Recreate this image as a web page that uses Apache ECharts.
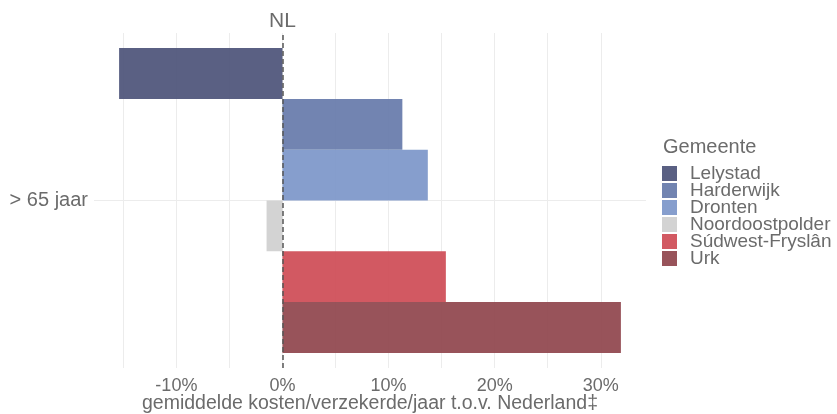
<!DOCTYPE html>
<html>
<head>
<meta charset="utf-8">
<script src="https://cdn.jsdelivr.net/npm/echarts@6/dist/echarts.min.js"></script>
<style>
  html, body { margin: 0; padding: 0; background: #fff; }
  #chart { width: 837px; height: 414px; }
</style>
</head>
<body>
<div id="chart"></div>
<script>
// Age group shown on the vertical axis
const categories = ['> 65 jaar'];
// Municipalities, one bar each
const gemeenten = ['Lelystad', 'Harderwijk', 'Dronten', 'Noordoostpolder', 'Súdwest-Fryslân', 'Urk'];
// Average cost per insured per year relative to the Netherlands (%)
const values = [-15.4, 11.3, 13.7, -1.5, 15.4, 31.9];
// Tick labels and grid positions on the value axis (%)
const xTickLabels = [-10, 0, 10, 20, 30];
const xGridValues = [-15, -10, -5, 0, 5, 10, 15, 20, 25, 30];

const palette = ['#4c5278', '#6679aa', '#7c96c9', '#cfcfcf', '#ce4b55', '#8f444c'];
const textColor = '#6b6b6b';
const fontFamily = '"Liberation Sans", Arial, sans-serif';

// 5% padding around the data range
const lo = Math.min(0, ...values), hi = Math.max(0, ...values);
const pad = (hi - lo) * 0.05;

const chart = echarts.init(document.getElementById('chart'), null, { renderer: 'canvas' });

const series = gemeenten.map((name, i) => ({
  name: name,
  type: 'bar',
  xAxisIndex: 0,
  yAxisIndex: 0,
  barGap: '0%',
  barCategoryGap: '9%',
  itemStyle: { color: palette[i], opacity: 0.92 },
  emphasis: { disabled: true },
  data: [values[i]]
}));

// Dashed reference line at the national average
series[0].markLine = {
  silent: true,
  symbol: ['none', 'none'],
  lineStyle: { type: [5, 3], color: '#555', width: 1.5 },
  label: {
    show: true,
    position: 'end',
    formatter: 'NL',
    color: textColor,
    fontSize: 21,
    distance: 1
  },
  data: [{ xAxis: 0 }]
};

chart.setOption({
  animation: false,
  backgroundColor: '#fff',
  textStyle: { fontFamily: fontFamily },
  title: {
    text: 'Gemeente',
    left: 663,
    top: 137,
    padding: 0,
    textStyle: { fontSize: 20, fontWeight: 'normal', color: textColor }
  },
  legend: {
    data: gemeenten,
    orient: 'vertical',
    left: 662,
    top: 164,
    padding: 0,
    itemWidth: 15,
    itemHeight: 15,
    itemGap: -2,
    icon: 'rect',
    selectedMode: false,
    textStyle: {
      fontSize: 19,
      color: textColor,
      lineHeight: 15,
      padding: [0, 0, 0, 8]
    }
  },
  grid: { left: 94, right: 191, top: 33, bottom: 46, containLabel: false, outerBoundsMode: 'none' },
  xAxis: [{
    type: 'value',
    min: lo - pad,
    max: hi + pad,
    axisLine: { show: false },
    axisTick: { show: false, customValues: xGridValues },
    axisLabel: {
      customValues: xTickLabels,
      formatter: v => v + '%',
      fontSize: 18,
      color: textColor,
      margin: 9
    },
    splitLine: { show: true, lineStyle: { color: '#ececec', width: 1 } },
    name: 'gemiddelde kosten/verzekerde/jaar t.o.v. Nederland‡',
    nameLocation: 'middle',
    nameMoveOverlap: false,
    nameGap: 26,
    nameTextStyle: { fontSize: 19.5, color: textColor }
  }],
  yAxis: [{
    type: 'category',
    data: categories,
    axisLine: { show: false },
    axisTick: { show: false },
    axisLabel: { fontSize: 20, color: textColor, margin: 6 },
    splitLine: { show: false }
  }, {
    // carries the horizontal grid line through the category centre
    type: 'value',
    min: 0,
    max: 2,
    axisLine: { show: false },
    axisTick: { show: false, customValues: [1] },
    axisLabel: { show: false },
    splitLine: { show: true, lineStyle: { color: '#ececec', width: 1 } }
  }],
  series: series
});
</script>
</body>
</html>
